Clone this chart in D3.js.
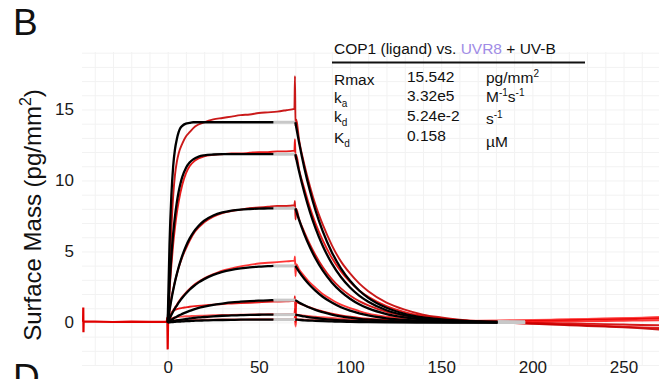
<!DOCTYPE html>
<html><head><meta charset="utf-8">
<script src="https://cdn.jsdelivr.net/npm/d3@7"></script>
<style>
html,body{margin:0;padding:0;background:#fff;}
svg{display:block;font-family:"Liberation Sans",Arial,Helvetica,sans-serif;}
</style></head>
<body><svg id="c" width="659" height="379"></svg>
<script>
// ---------- data ----------
const xTickValues = [0, 50, 100, 150, 200, 250];
const yTickValues = [0, 5, 10, 15];

// fitted model (black), association phase
const assocTimes = [0,1,2,3,4,5,6,7,8,10,12,14,17,20,25,30,35,40,45,50,55,58,70];
const fitAssoc1 = [0,5.5,8.9,11.0,12.2,12.9,13.4,13.7,13.85,14.0,14.05,14.1,14.1,14.1,14.1,14.1,14.1,14.1,14.1,14.1,14.1,14.1,14.1];
const fitAssoc2 = [0,2.62,4.66,6.26,7.49,8.45,9.21,9.79,10.25,10.88,11.26,11.49,11.68,11.77,11.83,11.85,11.85,11.85,11.85,11.85,11.85,11.85,11.85];
const fitAssoc3 = [0,.84,1.59,2.26,2.87,3.40,3.89,4.32,4.71,5.37,5.90,6.33,6.81,7.16,7.53,7.75,7.88,7.95,7.99,8.02,8.03,8.04,8.04];
const fitAssoc4 = [0,.27,.53,.77,.99,1.19,1.39,1.57,1.74,2.04,2.30,2.53,2.82,3.05,3.35,3.56,3.70,3.80,3.88,3.93,3.96,3.98,3.98];
const fitAssoc5 = [0,.09,.18,.26,.34,.41,.48,.54,.60,.71,.81,.90,1.02,1.11,1.24,1.33,1.41,1.46,1.50,1.53,1.55,1.57,1.57];
const fitAssoc6 = [0,.03,.06,.09,.11,.14,.16,.18,.20,.24,.28,.31,.35,.38,.43,.47,.49,.51,.53,.54,.55,.55,.55];
const fitAssoc7 = [0,.01,.02,.03,.04,.05,.06,.06,.07,.09,.1,.11,.13,.14,.16,.17,.18,.19,.19,.2,.2,.2,.2];
const fitAssocEnd = 58;   // fitted range end (rest drawn grey)

// fitted model (black), dissociation phase
const dissocTimes = [70,72,75,78,81,85,90,95,100,105,110,120,130,140,150,160,170,181,196];
const fitDiss1 = [14.1,12.70,10.85,9.27,7.92,6.43,4.95,3.81,2.93,2.25,1.73,1.03,.61,.36,.21,.13,.07,.04,.02];
const fitDiss2 = [11.85,10.67,9.12,7.79,6.66,5.40,4.16,3.20,2.46,1.89,1.46,.86,.51,.30,.18,.11,.06,.04,.02];
const fitDiss3 = [8.04,7.24,6.19,5.29,4.52,3.66,2.82,2.17,1.67,1.28,.99,.59,.35,.21,.12,.07,.04,.02,.01];
const fitDiss4 = [3.98,3.58,3.06,2.62,2.24,1.81,1.40,1.07,.83,.64,.49,.29,.17,.10,.06,.04,.02,.01,.01];
const fitDiss5 = [1.57,1.41,1.21,1.03,.88,.72,.55,.42,.33,.25,.19,.11,.07,.04,.02,.01,.01,0,0];
const fitDiss6 = [.55,.50,.42,.36,.31,.25,.19,.15,.11,.09,.07,.04,.02,.01,.01,0,0,0,0];
const fitDiss7 = [.2,.18,.15,.13,.11,.09,.07,.05,.04,.03,.02,.01,.01,0,0,0,0,0,0];
const fitDissEnd = 181;

// measured sensorgrams (red)
const redTimes = [0,0.5,1,2,3,4,5,6,8,10,12,15,20,25,30,35,40,45,50,55,60,65,69.5,
  69.8,70.1,
  70.5,72,75,78,81,85,90,95,100,105,110,120,130,140,150,160,170,180,190,200,210,220,230,240,250,260,270];
const red1 = [0,1.5,3.0,6.5,8.9,10.4,11.3,11.9,12.6,13.1,13.4,13.8,14.1,14.3,14.4,14.5,14.6,14.65,14.75,14.8,14.85,14.95,15.05,
  17.35,13.8,
  14.3,12.9,11.1,9.6,8.3,6.9,5.45,4.3,3.45,2.75,2.2,1.4,.9,.55,.35,.2,.1,.02,-.05,-.1,-.15,-.2,-.25,-.3,-.35,-.42,-.5];
const red2 = [0,1.1,2.2,4.0,5.5,6.7,7.7,8.5,9.7,10.5,11.0,11.4,11.7,11.8,11.85,11.9,11.9,11.95,12.0,12.0,12.05,12.05,12.1,
  12.9,11.5,
  11.8,10.8,9.4,8.1,7.0,5.8,4.55,3.6,2.85,2.25,1.8,1.15,.72,.45,.28,.15,.07,0,-.05,-.08,-.12,-.16,-.2,-.25,-.3,-.35,-.4];
const red3 = [0,.45,.9,1.7,2.3,2.9,3.4,3.85,4.6,5.2,5.75,6.4,7.05,7.45,7.7,7.85,7.95,8.05,8.1,8.15,8.2,8.2,8.25,
  8.55,7.25,
  8.0,7.3,6.35,5.5,4.75,3.9,3.05,2.4,1.9,1.5,1.2,.75,.47,.3,.18,.1,.05,.02,0,-.03,-.06,-.08,-.1,-.12,-.15,-.18,-.2];
const red4 = [0,.2,.35,.6,.85,1.05,1.25,1.45,1.8,2.1,2.35,2.7,3.1,3.4,3.65,3.8,3.95,4.05,4.15,4.2,4.25,4.3,4.35,
  4.65,3.25,
  4.1,3.75,3.25,2.8,2.45,2.0,1.6,1.25,1.0,.8,.62,.4,.25,.15,.1,.06,.04,.03,.03,.04,.05,.06,.08,.1,.12,.13,.15];
const red5 = [0,.2,.4,.65,.8,.88,.93,.97,1.02,1.06,1.1,1.15,1.2,1.25,1.3,1.33,1.36,1.39,1.42,1.45,1.47,1.49,1.52,
  1.85,0,
  1.45,1.35,1.2,1.05,.92,.78,.62,.5,.4,.32,.26,.18,.12,.08,.06,.05,.05,.06,.08,.1,.12,.15,.18,.2,.22,.25,.28];
const red6 = [0,.1,.2,.28,.32,.35,.37,.39,.41,.43,.44,.46,.48,.5,.52,.53,.54,.55,.56,.57,.58,.59,.6,
  .95,-.2,
  .55,.52,.48,.44,.4,.36,.31,.27,.23,.2,.17,.13,.1,.08,.07,.07,.08,.1,.12,.15,.18,.2,.23,.26,.29,.32,.35];
const red7 = [0,.05,.1,.13,.15,.16,.17,.17,.18,.18,.19,.19,.2,.2,.21,.21,.21,.22,.22,.22,.22,.23,.23,
  .45,-.3,
  .22,.21,.2,.19,.18,.17,.16,.15,.14,.13,.12,.11,.1,.1,.1,.11,.12,.14,.16,.18,.2,.22,.25,.28,.3,.33,.38];
const redColors = ["#c40000","#e30000","#d00000","#ff1f1f","#e80000","#ff3a3a","#ff5252"];

// pre-injection baseline (red)
const baseTimes = [-46.4,-46.3,-46.2,-46.1,-40,-30,-20,-10,-0.5,-0.2,0,0.2];
const baseVals  = [0.05,1.05,-0.7,0.05,0.05,0.03,0.05,0.04,0.05,0.35,-1.9,0];

// kinetic table
const tableTitle = ["COP1 (ligand) vs. ", "UVR8", " + UV-B"];
const tableLabels = [["Rmax",""],["k","a"],["k","d"],["K","d"]];
const tableValues = ["15.542","3.32e5","5.24e-2","0.158"];

// ---------- drawing ----------
const svg = d3.select("#c");
const plot = {left: 82, right: 660, top: 52, bottom: 365};
const x = d3.scaleLinear().domain([-47, 270]).range([plot.left, plot.right]);
const y = d3.scaleLinear().domain([-3, 19.05]).range([plot.bottom, plot.top]);

svg.append("defs").append("clipPath").attr("id","clip")
  .append("rect").attr("x",plot.left).attr("y",plot.top-30)
  .attr("width",plot.right-plot.left).attr("height",plot.bottom-plot.top+30);

// grid
const gridCol = "#f2f2f2";
const gx = svg.append("g").attr("transform",`translate(0,${plot.bottom})`)
  .call(d3.axisBottom(x).tickValues(d3.range(-40, 271, 10)).tickSize(-(plot.bottom-plot.top)).tickFormat(""));
gx.select(".domain").remove();
gx.selectAll("line").attr("stroke",gridCol).attr("stroke-width",1);
const gy = svg.append("g").attr("transform",`translate(${plot.left},0)`)
  .call(d3.axisLeft(y).tickValues(d3.range(-3, 19.5, 1)).tickSize(-(plot.right-plot.left)).tickFormat(""));
gy.select(".domain").remove();
gy.selectAll("line").attr("stroke",gridCol).attr("stroke-width",1);

// axes labels
const ax = svg.append("g").attr("transform",`translate(0,${plot.bottom-10})`)
  .call(d3.axisBottom(x).tickValues(xTickValues).tickSize(0).tickPadding(6));
ax.select(".domain").remove();
ax.selectAll("text").attr("font-size",17).attr("fill","#1a1a1a").attr("font-family","Liberation Sans, Arial, sans-serif");
const ay = svg.append("g").attr("transform",`translate(${plot.left},0)`)
  .call(d3.axisLeft(y).tickValues(yTickValues).tickSize(0).tickPadding(8));
ay.select(".domain").remove();
ay.selectAll("text").attr("font-size",17).attr("fill","#1a1a1a").attr("font-family","Liberation Sans, Arial, sans-serif");

// y title
const yt = svg.append("text").attr("transform","translate(41,215) rotate(-90)")
  .attr("text-anchor","middle").attr("font-size",24).attr("fill","#111");
yt.append("tspan").text("Surface Mass (pg/mm");
yt.append("tspan").attr("font-size",16).attr("dy",-10).text("2");
yt.append("tspan").attr("dy",10).text(")");

// panel letters (the next panel's "D" is cut by the bottom edge, as in the source figure)
svg.append("text").attr("x",13).attr("y",35).attr("font-size",37).attr("fill","#111").text("B");
svg.append("text").attr("x",13).attr("y",390).attr("font-size",37).attr("fill","#111").text("D");

const lines = svg.append("g").attr("clip-path","url(#clip)");
const line = d3.line().x(d => x(d[0])).y(d => y(d[1])).curve(d3.curveMonotoneX);

// red measured
const reds = [red1,red2,red3,red4,red5,red6,red7];
reds.slice().reverse().forEach((vals, ri) => {
  const i = reds.length - 1 - ri;
  lines.append("path").datum(redTimes.map((t,k)=>[t,vals[k]]))
    .attr("d",line).attr("fill","none").attr("stroke",redColors[i])
    .attr("stroke-width",1.9).attr("stroke-opacity",0.9).attr("stroke-linejoin","round");
});
lines.append("path").datum(baseTimes.map((t,k)=>[t,baseVals[k]]))
  .attr("d",d3.line().x(d=>x(d[0])).y(d=>y(d[1]))).attr("fill","none")
  .attr("stroke","#e00000").attr("stroke-width",2.2);

// fitted curves
const fitsA = [fitAssoc1,fitAssoc2,fitAssoc3,fitAssoc4,fitAssoc5,fitAssoc6,fitAssoc7];
const fitsD = [fitDiss1,fitDiss2,fitDiss3,fitDiss4,fitDiss5,fitDiss6,fitDiss7];
function drawFit(times, vals, end){
  const pts = times.map((t,k)=>[t,vals[k]]);
  const inFit = pts.filter(p => p[0] <= end);
  const outFit = pts.filter(p => p[0] >= end);
  lines.append("path").datum(outFit).attr("d",line).attr("fill","none")
    .attr("stroke","#c8c8c8").attr("stroke-width",3);
  lines.append("path").datum(inFit).attr("d",line).attr("fill","none")
    .attr("stroke","#000").attr("stroke-width",2.3).attr("stroke-linejoin","round");
}
fitsA.forEach(v => drawFit(assocTimes, v, fitAssocEnd));
fitsD.forEach(v => drawFit(dissocTimes, v, fitDissEnd));

// table
const tfs = 15.5;
const tt = svg.append("text").attr("x",334).attr("y",54).attr("font-size",tfs).attr("fill","#111");
tt.append("tspan").text(tableTitle[0]);
tt.append("tspan").attr("fill","#a08ce6").text(tableTitle[1]);
tt.append("tspan").text(tableTitle[2]);
svg.append("line").attr("x1",332).attr("x2",585).attr("y1",62.5).attr("y2",62.5)
  .attr("stroke","#111").attr("stroke-width",2);

const labelY = [85,103,122,143];
const valueY = [82,101,121,141];
tableLabels.forEach((l,i) => {
  const t = svg.append("text").attr("x",334).attr("y",labelY[i]).attr("font-size",tfs).attr("fill","#111");
  t.append("tspan").text(l[0]);
  if (l[1]) t.append("tspan").attr("font-size",10).attr("dy",4).text(l[1]);
});
tableValues.forEach((v,i) => {
  svg.append("text").attr("x",407).attr("y",valueY[i]).attr("font-size",tfs).attr("fill","#111").text(v);
});
// units
const u1 = svg.append("text").attr("x",486).attr("y",83).attr("font-size",tfs).attr("fill","#111");
u1.append("tspan").text("pg/mm");
u1.append("tspan").attr("font-size",10).attr("dy",-6).text("2");
const u2 = svg.append("text").attr("x",486).attr("y",102).attr("font-size",tfs).attr("fill","#111");
u2.append("tspan").text("M");
u2.append("tspan").attr("font-size",10).attr("dy",-6).text("-1");
u2.append("tspan").attr("dy",6).text("s");
u2.append("tspan").attr("font-size",10).attr("dy",-6).text("-1");
const u3 = svg.append("text").attr("x",486).attr("y",124).attr("font-size",tfs).attr("fill","#111");
u3.append("tspan").text("s");
u3.append("tspan").attr("font-size",10).attr("dy",-6).text("-1");
svg.append("text").attr("x",486).attr("y",146.5).attr("font-size",tfs).attr("fill","#111").text("µM");
</script>
</body></html>
